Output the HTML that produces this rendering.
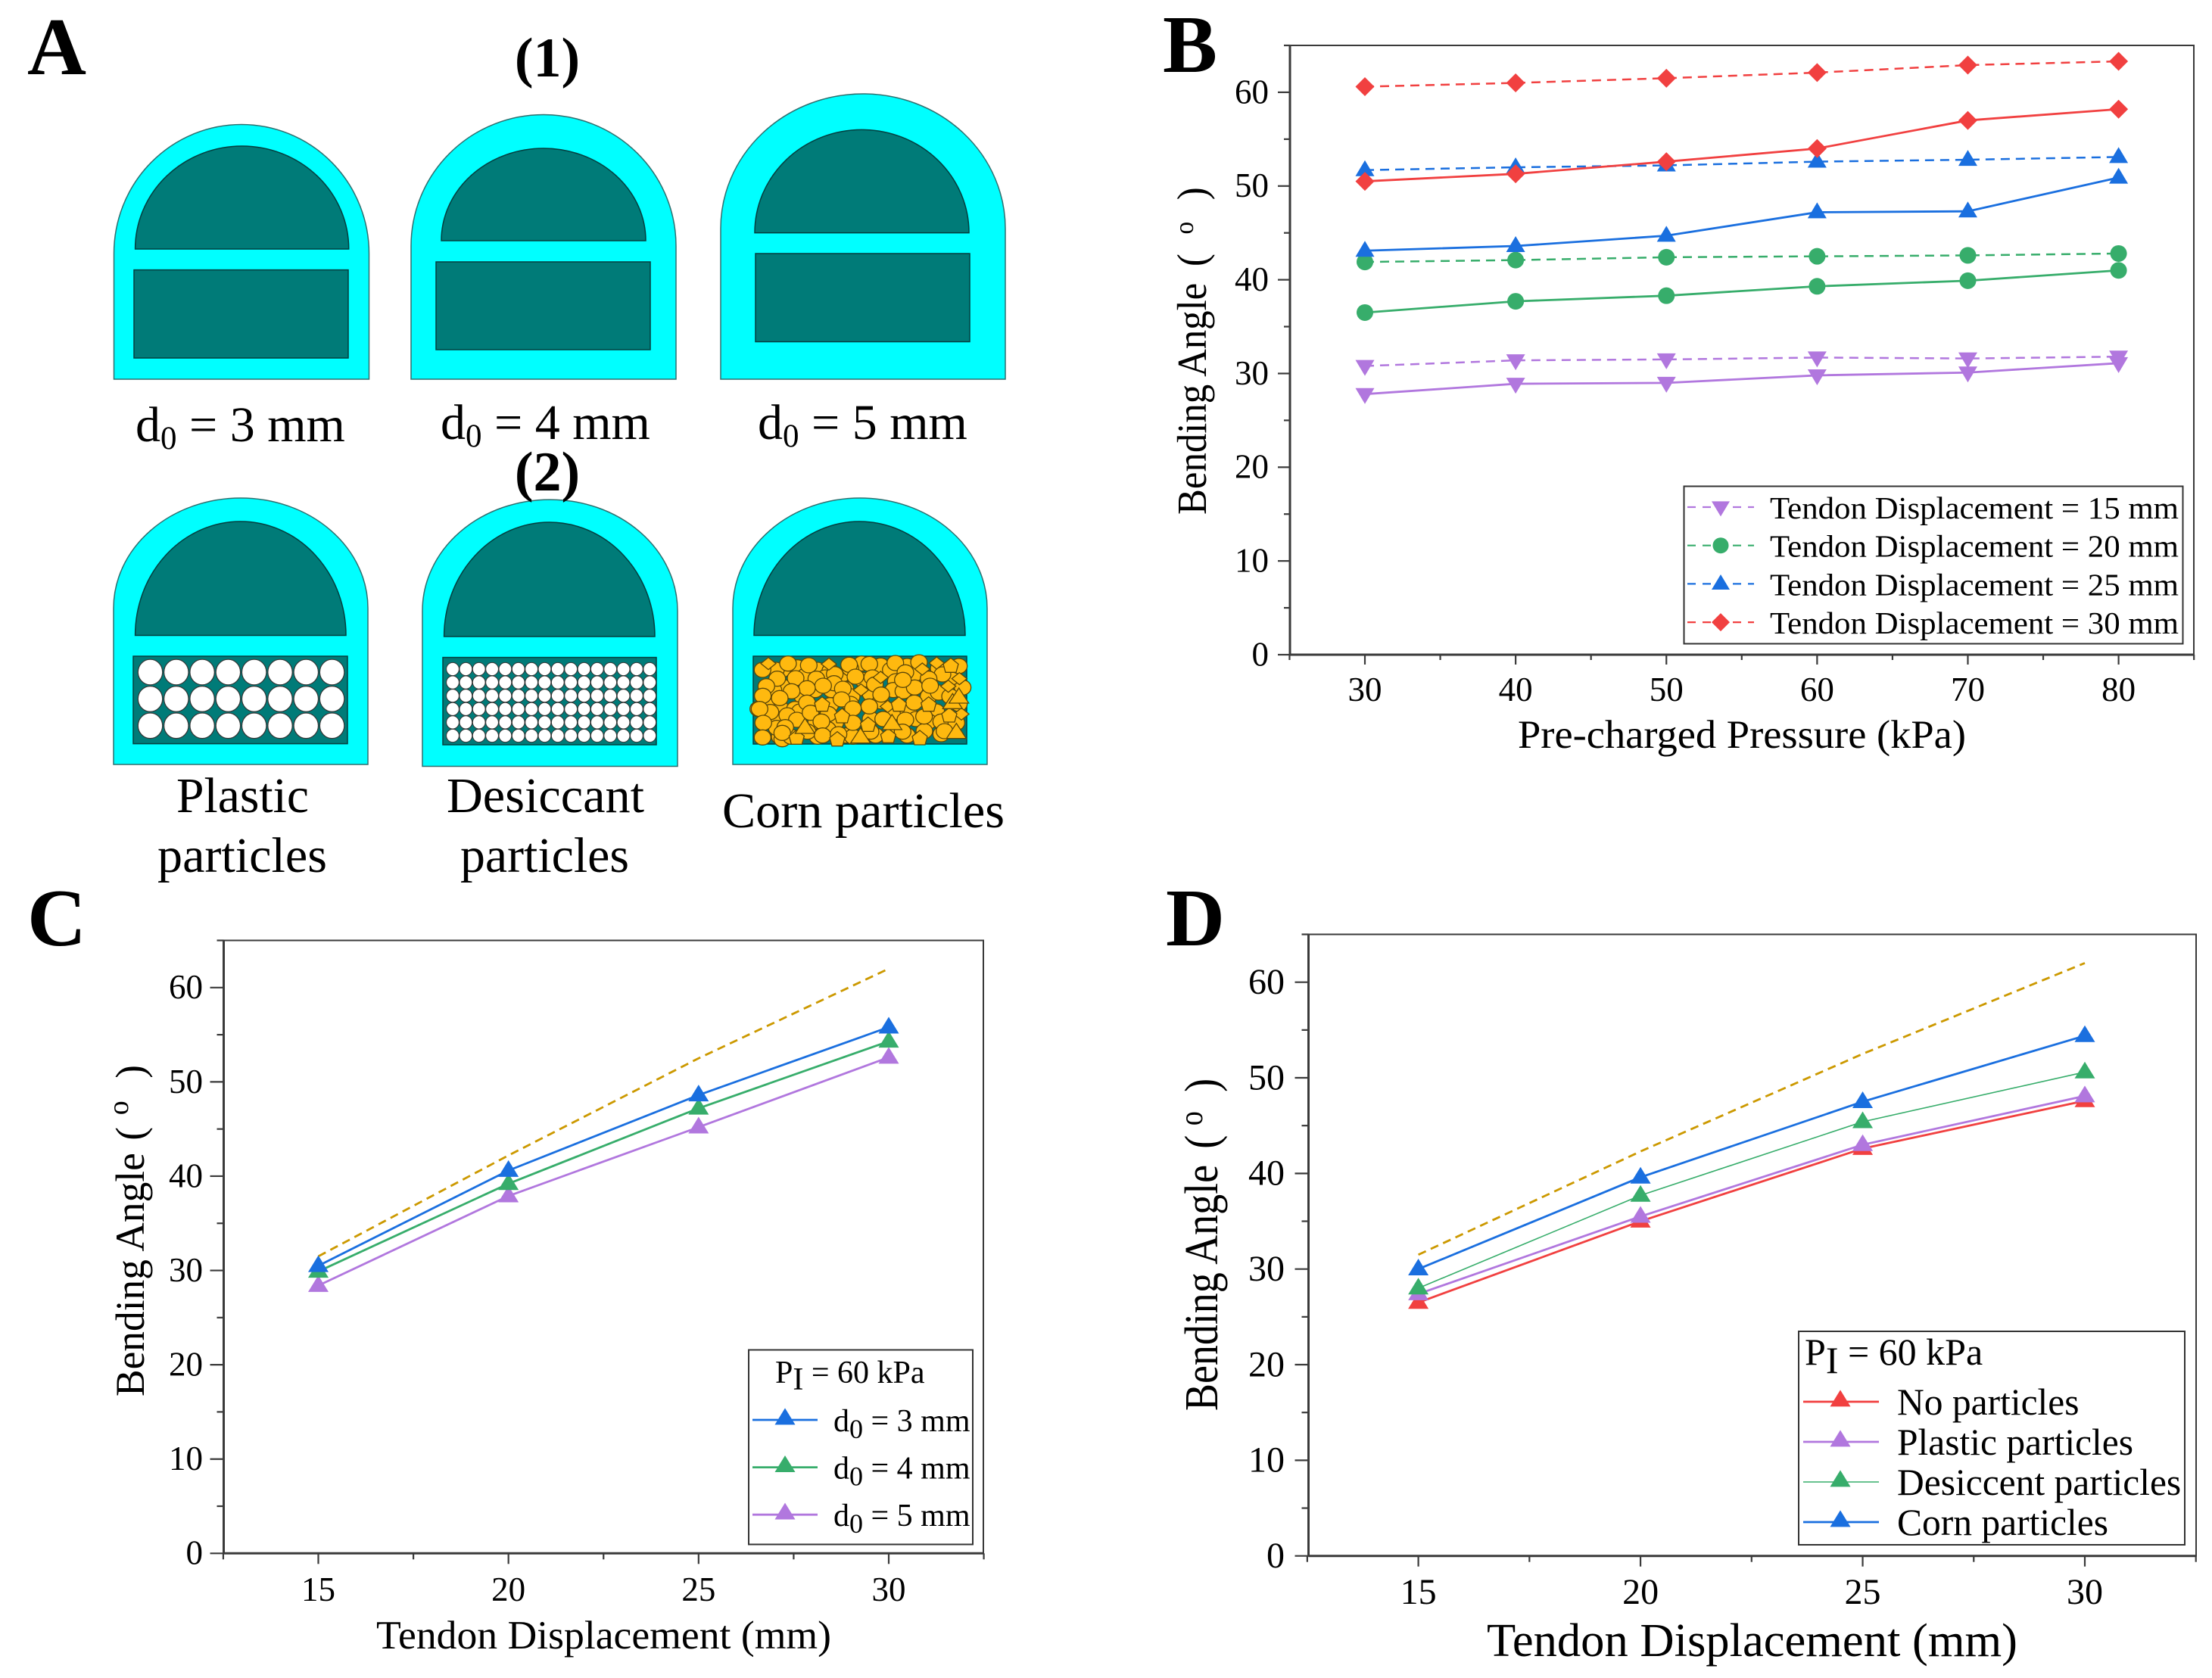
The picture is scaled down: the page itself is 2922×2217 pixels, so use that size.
<!DOCTYPE html>
<html lang="en">
<head>
<meta charset="utf-8">
<title>Bending angle figure</title>
<style>
html,body{margin:0;padding:0;background:#fff;}
svg{display:block;}
text{font-family:"Liberation Serif",serif;fill:#000;}
</style>
</head>
<body>
<svg id="fig" xmlns="http://www.w3.org/2000/svg" width="2922" height="2217" viewBox="0 0 2922 2217">
<rect x="0" y="0" width="2922" height="2217" fill="#fff"/>

<text x="36" y="98" font-size="108" font-weight="bold">A</text>
<text x="1536" y="95" font-size="108" font-weight="bold">B</text>
<text x="36" y="1249" font-size="108" font-weight="bold">C</text>
<text x="1540" y="1249" font-size="108" font-weight="bold">D</text>

<g id="schematics"></g>

<text x="723" y="101" font-size="74" font-weight="bold" text-anchor="middle">(1)</text>
<text x="723" y="648" font-size="74" font-weight="bold" text-anchor="middle">(2)</text>
<text x="179" y="583" font-size="66">d<tspan font-size="43" dy="10">0</tspan><tspan dy="-10"> = 3 mm</tspan></text>
<text x="582" y="580" font-size="66">d<tspan font-size="43" dy="10">0</tspan><tspan dy="-10"> = 4 mm</tspan></text>
<text x="1001" y="580" font-size="66">d<tspan font-size="43" dy="10">0</tspan><tspan dy="-10"> = 5 mm</tspan></text>
<text x="233" y="1073" font-size="66" textLength="175" lengthAdjust="spacingAndGlyphs">Plastic</text>
<text x="208" y="1152" font-size="66" textLength="224" lengthAdjust="spacingAndGlyphs">particles</text>
<text x="590" y="1073" font-size="66" textLength="261" lengthAdjust="spacingAndGlyphs">Desiccant</text>
<text x="608" y="1152" font-size="66" textLength="223" lengthAdjust="spacingAndGlyphs">particles</text>
<text x="954" y="1093" font-size="66" textLength="373" lengthAdjust="spacingAndGlyphs">Corn particles</text>

<g id="chartB"></g>
<g id="chartC"></g>
<g id="chartD"></g>

<text x="2005" y="988" font-size="53" textLength="592" lengthAdjust="spacingAndGlyphs">Pre-charged Pressure (kPa)</text>
<text transform="translate(1593,680) rotate(-90) scale(0.924,1)" font-size="55">Bending Angle<tspan x="355">(</tspan><tspan x="401" dy="-17" font-size="36">o</tspan><tspan x="450" dy="17">)</tspan></text>

<text x="497" y="2178" font-size="53" textLength="601" lengthAdjust="spacingAndGlyphs">Tendon Displacement (mm)</text>
<text transform="translate(190,1845) rotate(-90) scale(0.989,1)" font-size="54">Bending Angle<tspan x="342">(</tspan><tspan x="376" dy="-21" font-size="38">o</tspan><tspan x="425" dy="21">)</tspan></text>

<text x="1964" y="2188" font-size="62" textLength="701" lengthAdjust="spacingAndGlyphs">Tendon Displacement (mm)</text>
<text transform="translate(1608,1864) rotate(-90) scale(0.87,1)" font-size="62">Bending Angle<tspan x="398">(</tspan><tspan x="433" dy="-20" font-size="44">o</tspan><tspan x="484" dy="20">)</tspan></text>
</svg>

<script>
// ---- Chart data ----
const pressureCategories = [30, 40, 50, 60, 70, 80];
const displacementCategories = [15, 20, 25, 30];
const yTickLabels = [0, 10, 20, 30, 40, 50, 60];

const bDashed15 = [30.8, 31.4, 31.5, 31.7, 31.6, 31.8];
const bSolid15 = [27.8, 28.9, 29.0, 29.8, 30.1, 31.1];
const bDashed20 = [41.9, 42.1, 42.4, 42.5, 42.6, 42.8];
const bSolid20 = [36.5, 37.7, 38.3, 39.3, 39.9, 41.0];
const bDashed25 = [51.7, 52.0, 52.2, 52.6, 52.8, 53.1];
const bSolid25 = [43.1, 43.6, 44.7, 47.2, 47.3, 50.9];
const bDashed30 = [60.6, 61.0, 61.5, 62.1, 62.9, 63.3];
const bSolid30 = [50.5, 51.3, 52.6, 54.0, 57.0, 58.2];

const cReference = [31.5, 42.2, 52.5, 62.0];
const cD3 = [30.5, 40.6, 48.6, 55.8];
const cD4 = [29.9, 39.2, 47.2, 54.3];
const cD5 = [28.4, 37.9, 45.2, 52.6];

const dReference = [31.5, 42.3, 52.5, 62.0];
const dNone = [26.5, 35.0, 42.6, 47.6];
const dPlastic = [27.4, 35.5, 43.0, 48.1];
const dDesiccant = [28.0, 37.7, 45.4, 50.6];
const dCorn = [30.0, 39.6, 47.5, 54.4];

// ---- Helpers ----
const NS = 'http://www.w3.org/2000/svg';
const RED = '#F14040', BLUE = '#1A6FDF', GREEN = '#37AD6B', PURPLE = '#B177DE', GOLD = '#CC9900', AXIS = '#3a3a3a';

function node(parent, tag, name, attrs) {
  const el = document.createElementNS(NS, tag);
  
  
  for (const k in attrs) el.setAttribute(k, attrs[k]);
  parent.appendChild(el);
  return el;
}
function label(parent, name, str, x, y, size, anchor) {
  const el = node(parent, 'text', name, {x: x, y: y, 'font-size': size, 'text-anchor': anchor || 'start'});
  el.textContent = str;
  return el;
}
function subLabel(parent, name, a, sub, b, x, y, size, subSize, drop) {
  const el = node(parent, 'text', name, {x: x, y: y, 'font-size': size});
  el.appendChild(document.createTextNode(a));
  const s = document.createElementNS(NS, 'tspan');
  s.setAttribute('font-size', subSize);
  s.setAttribute('dy', drop);
  s.textContent = sub;
  el.appendChild(s);
  const t = document.createElementNS(NS, 'tspan');
  t.setAttribute('dy', -drop);
  t.textContent = b;
  el.appendChild(t);
  return el;
}
function linear(d0, d1, r0, r1) {
  return function (v) { return r0 + (v - d0) * (r1 - r0) / (d1 - d0); };
}
function marker(parent, name, type, x, y, w, h, color) {
  if (type === 'circle') {
    return node(parent, 'circle', name, {cx: x, cy: y, r: w / 2, fill: color});
  }
  let pts;
  if (type === 'up') pts = [[x, y - h * 0.62], [x + w / 2, y + h * 0.38], [x - w / 2, y + h * 0.38]];
  if (type === 'down') pts = [[x, y + h * 0.62], [x + w / 2, y - h * 0.38], [x - w / 2, y - h * 0.38]];
  if (type === 'diamond') pts = [[x, y - h / 2], [x + w / 2, y], [x, y + h / 2], [x - w / 2, y]];
  return node(parent, 'polygon', name, {points: pts.map(p => p.join(',')).join(' '), fill: color});
}
function drawAxes(g, prefix, f, sx, sy, xTicks, xMinorStep, fs, yLabelRight, xLabelBase, majorY, minorY, majorX, minorX) {
  node(g, 'rect', prefix + '-plot-frame', {x: f.l, y: f.t, width: f.r - f.l, height: f.b - f.t, fill: 'none', stroke: AXIS, 'stroke-width': 2});
  node(g, 'line', prefix + '-x-axis', {x1: f.l, x2: f.r, y1: f.b, y2: f.b, stroke: AXIS, 'stroke-width': 3});
  node(g, 'line', prefix + '-y-axis', {x1: f.l, x2: f.l, y1: f.t, y2: f.b, stroke: AXIS, 'stroke-width': 3});
  for (let v = 0; v <= 65; v += 5) {
    const y = sy(v), maj = v % 10 === 0;
    node(g, 'line', prefix + '-y-tick', {x1: f.l - (maj ? majorY : minorY), x2: f.l, y1: y, y2: y, stroke: AXIS, 'stroke-width': 2.2});
  }
  yTickLabels.forEach(function (v) {
    label(g, prefix + '-y-tick-label', String(v), yLabelRight, sy(v) + fs * 0.32, fs, 'end');
  });
  for (let v = f.xMin; v <= f.xMax + 1e-6; v += xMinorStep) {
    const x = sx(v);
    const maj = xTicks.indexOf(v) >= 0;
    node(g, 'line', prefix + '-x-tick', {x1: x, x2: x, y1: f.b, y2: f.b + (maj ? majorX : minorX), stroke: AXIS, 'stroke-width': 2.2});
  }
  xTicks.forEach(function (v) {
    label(g, prefix + '-x-tick-label', String(v), sx(v), xLabelBase, fs, 'middle');
  });
}
function drawSeries(g, name, cats, vals, sx, sy, color, width, dash, type, mw, mh) {
  const pts = cats.map(function (c, i) { return sx(c) + ',' + sy(vals[i]); }).join(' ');
  const attrs = {points: pts, fill: 'none', stroke: color, 'stroke-width': width};
  if (dash) attrs['stroke-dasharray'] = dash;
  node(g, 'polyline', name + '-line', attrs);
  if (type) cats.forEach(function (c, i) {
    marker(g, name + '-marker', type, sx(c), sy(vals[i]), mw, mh, color);
  });
}

// ---- Chart B ----
(function () {
  const g = document.getElementById('chartB');
  const f = {l: 1704, r: 2898, t: 60, b: 865, xMin: 25, xMax: 85};
  const sx = linear(30, 80, 1803, 2798.6), sy = linear(0, 65, f.b, f.t);
  drawAxes(g, 'chart-b', f, sx, sy, pressureCategories, 5, 45, 1676, 926, 16, 8, 13, 7);
  const D = '12 8';
  drawSeries(g, 'series-15mm-dashed', pressureCategories, bDashed15, sx, sy, PURPLE, 2.5, D, 'down', 25, 21);
  drawSeries(g, 'series-15mm-solid', pressureCategories, bSolid15, sx, sy, PURPLE, 2.8, null, 'down', 25, 21);
  drawSeries(g, 'series-20mm-dashed', pressureCategories, bDashed20, sx, sy, GREEN, 2.5, D, 'circle', 22, 22);
  drawSeries(g, 'series-20mm-solid', pressureCategories, bSolid20, sx, sy, GREEN, 2.8, null, 'circle', 22, 22);
  drawSeries(g, 'series-25mm-dashed', pressureCategories, bDashed25, sx, sy, BLUE, 2.5, D, 'up', 25, 21);
  drawSeries(g, 'series-25mm-solid', pressureCategories, bSolid25, sx, sy, BLUE, 2.8, null, 'up', 25, 21);
  drawSeries(g, 'series-30mm-dashed', pressureCategories, bDashed30, sx, sy, RED, 2.5, D, 'diamond', 25, 25);
  drawSeries(g, 'series-30mm-solid', pressureCategories, bSolid30, sx, sy, RED, 2.8, null, 'diamond', 25, 25);

  const lg = node(g, 'g', 'chart-b-legend', {});
  node(lg, 'rect', 'legend-box', {x: 2224.5, y: 642.5, width: 659, height: 208, fill: '#fff', stroke: '#333', 'stroke-width': 2});
  const names = ['15', '20', '25', '30'];
  const colors = [PURPLE, GREEN, BLUE, RED];
  const types = ['down', 'circle', 'up', 'diamond'];
  names.forEach(function (n, i) {
    const y = 670 + i * 50.7;
    node(lg, 'line', 'legend-line', {x1: 2229, x2: 2317, y1: y, y2: y, stroke: colors[i], 'stroke-width': 2.2, 'stroke-dasharray': '11 9'});
    marker(lg, 'legend-marker', types[i], 2273, y, types[i] === 'circle' ? 21 : 24, types[i] === 'diamond' ? 24 : 20, colors[i]);
    const t = label(lg, 'legend-entry', 'Tendon Displacement = ' + n + ' mm', 2338, y + 15, 41);
    t.setAttribute('textLength', 540);
    t.setAttribute('lengthAdjust', 'spacingAndGlyphs');
  });
})();

// ---- Chart C ----
(function () {
  const g = document.getElementById('chartC');
  const f = {l: 295.5, r: 1299, t: 1242.5, b: 2052.3, xMin: 12.5, xMax: 32.5};
  const sx = linear(15, 30, 420.5, 1174), sy = linear(0, 65, f.b, f.t);
  drawAxes(g, 'chart-c', f, sx, sy, displacementCategories, 2.5, 45, 268, 2115, 18, 9, 14, 8);
  drawSeries(g, 'reference-dashed', displacementCategories, cReference, sx, sy, GOLD, 2.8, '11 7', null);
  drawSeries(g, 'series-d0-5mm', displacementCategories, cD5, sx, sy, PURPLE, 2.8, null, 'up', 27, 22);
  drawSeries(g, 'series-d0-4mm', displacementCategories, cD4, sx, sy, GREEN, 2.8, null, 'up', 27, 22);
  drawSeries(g, 'series-d0-3mm', displacementCategories, cD3, sx, sy, BLUE, 2.8, null, 'up', 27, 22);

  const lg = node(g, 'g', 'chart-c-legend', {});
  node(lg, 'rect', 'legend-box', {x: 989, y: 1783.5, width: 296, height: 257, fill: '#fff', stroke: '#333', 'stroke-width': 2});
  subLabel(lg, 'legend-title', 'P', 'I', ' = 60 kPa', 1024, 1827, 42, 42, 9);
  const colors = [BLUE, GREEN, PURPLE];
  const vals = ['3', '4', '5'];
  vals.forEach(function (v, i) {
    const y = 1876 + i * 62.6;
    node(lg, 'line', 'legend-line', {x1: 994, x2: 1080, y1: y, y2: y, stroke: colors[i], 'stroke-width': 2.8});
    marker(lg, 'legend-marker', 'up', 1037, y - 2, 27, 22, colors[i]);
    subLabel(lg, 'legend-entry', 'd', '0', ' = ' + v + ' mm', 1101, y + 15, 42, 36, 9);
  });
})();

// ---- Chart D ----
(function () {
  const g = document.getElementById('chartD');
  const f = {l: 1728.5, r: 2901, t: 1234.5, b: 2055.7, xMin: 12.5, xMax: 32.5};
  const sx = linear(15, 30, 1873.6, 2754), sy = linear(0, 65, f.b, f.t);
  drawAxes(g, 'chart-d', f, sx, sy, displacementCategories, 2.5, 48, 1697, 2119, 18, 9, 14, 8);
  drawSeries(g, 'reference-dashed', displacementCategories, dReference, sx, sy, GOLD, 2.8, '11 7', null);
  drawSeries(g, 'series-no-particles', displacementCategories, dNone, sx, sy, RED, 2.8, null, 'up', 27, 22);
  drawSeries(g, 'series-plastic-particles', displacementCategories, dPlastic, sx, sy, PURPLE, 2.8, null, 'up', 27, 22);
  drawSeries(g, 'series-desiccant-particles', displacementCategories, dDesiccant, sx, sy, GREEN, 1.6, null, 'up', 27, 22);
  drawSeries(g, 'series-corn-particles', displacementCategories, dCorn, sx, sy, BLUE, 2.8, null, 'up', 27, 22);

  const lg = node(g, 'g', 'chart-d-legend', {});
  node(lg, 'rect', 'legend-box', {x: 2376, y: 1759, width: 510, height: 282, fill: '#fff', stroke: '#333', 'stroke-width': 2});
  subLabel(lg, 'legend-title', 'P', 'I', ' = 60 kPa', 2384, 1803, 50, 50, 11);
  const names = ['No particles', 'Plastic particles', 'Desiccent particles', 'Corn particles'];
  const colors = [RED, PURPLE, GREEN, BLUE];
  const widths = [2.8, 2.8, 1.6, 2.8];
  names.forEach(function (n, i) {
    const y = 1852 + i * 53;
    node(lg, 'line', 'legend-line', {x1: 2382, x2: 2482, y1: y, y2: y, stroke: colors[i], 'stroke-width': widths[i]});
    marker(lg, 'legend-marker', 'up', 2431, y - 2, 27, 22, colors[i]);
    label(lg, 'legend-entry', n, 2506, y + 17, 49.5);
  });
})();

// ---- Panel A schematics ----
(function () {
  const g = document.getElementById('schematics');
  const CYAN = '#00FFFF', TEAL = '#007B78';
  function body(name, o, a, r) {
    const s = node(g, 'g', name, {});
    const rx = (o.x1 - o.x0) / 2;
    node(s, 'path', name + '-outer-shell', {
      d: 'M' + o.x0 + ' ' + o.bot + 'L' + o.x0 + ' ' + o.arch + 'A' + rx + ' ' + (o.arch - o.top) + ' 0 0 1 ' + o.x1 + ' ' + o.arch + 'L' + o.x1 + ' ' + o.bot + 'Z',
      fill: CYAN, stroke: '#2f6f6f', 'stroke-width': 1.5
    });
    node(s, 'path', name + '-upper-chamber', {
      d: 'M' + a.x0 + ' ' + a.base + 'A' + ((a.x1 - a.x0) / 2) + ' ' + (a.base - a.top) + ' 0 0 1 ' + a.x1 + ' ' + a.base + 'Z',
      fill: TEAL, stroke: '#043f3f', 'stroke-width': 1.5
    });
    node(s, 'rect', name + '-lower-chamber', {x: r.x0, y: r.y0, width: r.x1 - r.x0, height: r.y1 - r.y0, fill: TEAL, stroke: '#043f3f', 'stroke-width': 1.5});
    return s;
  }
  body('shell-d0-3mm', {x0:150.5,x1:487.5,top:164.5,arch:335,bot:501}, {x0:178.6,x1:460.7,top:193,base:329}, {x0:177,x1:460,y0:356.6,y1:473});
  body('shell-d0-4mm', {x0:543,x1:893,top:151.5,arch:325,bot:501}, {x0:583,x1:853,top:196,base:318}, {x0:576,x1:859,y0:346,y1:462});
  body('shell-d0-5mm', {x0:952,x1:1328,top:124,arch:302,bot:501}, {x0:997,x1:1280,top:171.4,base:307.6}, {x0:998,x1:1281,y0:335,y1:451.5});
  const pa = body('shell-plastic', {x0:150,x1:486,top:658,arch:803.6,bot:1010}, {x0:178.6,x1:457,top:689,base:839.5}, {x0:176,x1:459,y0:867,y1:982.6});
  const pb = body('shell-desiccant', {x0:558,x1:895,top:660,arch:807,bot:1012.5}, {x0:586.6,x1:865,top:690,base:841}, {x0:585,x1:867,y0:868.6,y1:984});
  const pc = body('shell-corn', {x0:968,x1:1304,top:658,arch:803.6,bot:1010}, {x0:996,x1:1275,top:689,base:839.5}, {x0:995,x1:1277,y0:867,y1:983});

  for (let row = 0; row < 3; row++) for (let col = 0; col < 8; col++) {
    node(pa, 'ellipse', 'plastic-particle', {cx: 198.5 + col * 34.3, cy: 888 + row * 35.4, rx: 16.2, ry: 16.8, fill: '#fff', stroke: '#333', 'stroke-width': 1.2});
  }
  for (let row = 0; row < 6; row++) for (let col = 0; col < 16; col++) {
    node(pb, 'ellipse', 'desiccant-particle', {cx: 598 + col * 17.35, cy: 884 + row * 17.6, rx: 8.4, ry: 8.6, fill: '#fff', stroke: '#333', 'stroke-width': 1});
  }

  // Hand-placed corn particles: centres (3x crop coordinates)
  const cornRound = [
    [310,125],[250,135],[390,135],[440,140],[700,130],[640,118],[565,110],[745,120],[770,155],[680,135],[480,160],[225,135],[340,160],[420,165],
    [700,180],[690,215],[730,220],[500,210],[445,215],[380,215],[330,240],[260,205],[215,215],[600,230],[525,240],[830,240],[870,225],[965,205],[915,240],
    [190,270],[155,290],[245,290],[300,290],[370,290],[440,275],[520,270],[640,260],[690,305],[750,300],[860,300],[950,270],[235,330],[320,300],[460,345],
    [385,340],[430,370],[600,330],[650,330],[830,340],[880,340],[940,345],[240,400],[250,410],[285,400],[390,400],[500,395],[620,395],[745,395],[880,390],
    [228,365],[350,380],[700,370],[780,330],[570,175],[520,130],[870,130],[920,165],[600,380],[530,400],
    [172,135],[273,110],[355,117],[515,115],[595,112],[698,108],[792,105],[885,153],[738,145],[540,162],[458,152],[303,168],[230,170],[385,170],[607,165],
    [830,170],[775,205],[836,198],[728,175],[617,193],[455,188],[412,198],[348,208],[490,210],[187,200],[287,220],[173,238],[240,247],[642,233],[485,252],
    [348,265],[773,265],[595,280],[530,288],[203,302],[160,290],[433,310],[270,315],[308,333],[362,305],[405,340],[175,345],[262,362],[250,385],[530,345],
    [410,395],[473,390],[172,403],[738,333],[727,380],[813,378],[893,378],[812,320],[950,120]
  ];
  const cornDiamond = [[195,110],[435,112],[805,132],[862,108],[952,170],[908,200],[562,215],[668,280],[640,165],[960,310]];
  const cornPentagon = [[918,118],[830,272],[712,272],[408,272],[487,318],[590,352],[912,315],[307,403],[670,397],[795,405],[468,410]];
  const cornTriangle = [[925,262],[685,345],[560,398],[940,380],[950,240],[340,360]];
  const cornGroup = node(pc, 'g', 'corn-particles', {fill: '#FFB90F', stroke: '#5c4708', 'stroke-width': 1.3});
  const px = function (v) { return 950 + v / 3; }, py = function (v) { return 840 + v / 3; };
  cornRound.forEach(function (p) {
    node(cornGroup, 'ellipse', 'corn-particle-round', {cx: px(p[0]), cy: py(p[1]), rx: 11, ry: 10});
  });
  cornDiamond.forEach(function (p) {
    const x = px(p[0]), y = py(p[1]);
    node(cornGroup, 'polygon', 'corn-particle-diamond', {points: (x-10)+','+y+' '+x+','+(y-8)+' '+(x+10)+','+y+' '+x+','+(y+8)});
  });
  cornPentagon.forEach(function (p) {
    const x = px(p[0]), y = py(p[1]);
    node(cornGroup, 'polygon', 'corn-particle-pentagon', {points: x+','+(y-10)+' '+(x+10)+','+(y-2)+' '+(x+7)+','+(y+9)+' '+(x-7)+','+(y+9)+' '+(x-10)+','+(y-2)});
  });
  cornTriangle.forEach(function (p) {
    const x = px(p[0]), y = py(p[1]);
    node(cornGroup, 'polygon', 'corn-particle-triangle', {points: x+','+(y-11)+' '+(x+13)+','+(y+9)+' '+(x-13)+','+(y+9)});
  });
})();
</script>
</body>
</html>
